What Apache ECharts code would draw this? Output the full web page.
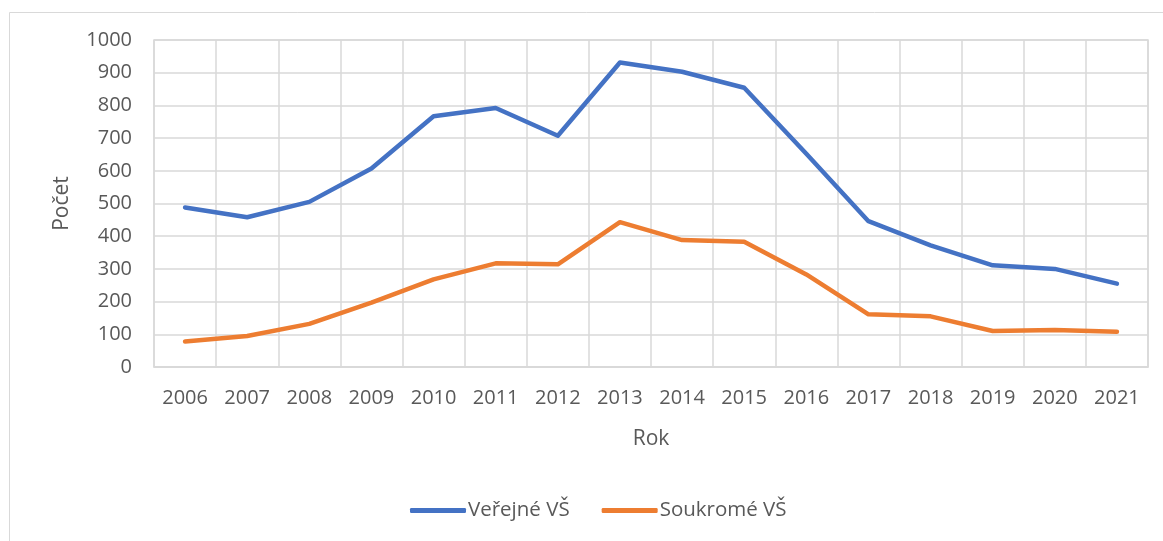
<!DOCTYPE html>
<html>
<head>
<meta charset="utf-8">
<script src="https://cdn.jsdelivr.net/npm/echarts@6/dist/echarts.min.js"></script>
<style>
html,body{margin:0;padding:0;background:#fff;}
#c{width:1163px;height:541px;}
</style>
</head>
<body>
<div id="c"></div>
<script>
const years = ['2006','2007','2008','2009','2010','2011','2012','2013','2014','2015','2016','2017','2018','2019','2020','2021'];
const verejne = [488, 458, 505, 607, 767, 792, 707, 931, 903, 854, 652, 446, 372, 311, 300, 255];
const soukrome = [78, 95, 132, 197, 268, 317, 314, 443, 388, 383, 283, 161, 155, 110, 113, 108];
const seriesNames = ['Veřejné VŠ', 'Soukromé VŠ'];
const yTicks = { min: 0, max: 1000, interval: 100 };

const FONT = '"Open Sans", "Noto Sans", sans-serif';
const TXT = '#595959';
const GRID = '#d9d9d9';

const chart = echarts.init(document.getElementById('c'), null, { renderer: 'canvas' });
chart.setOption({
  animation: false,
  backgroundColor: '#fff',
  textStyle: { fontFamily: FONT },
  graphic: [
    { type: 'line', shape: { x1: 9.5, y1: 12.5, x2: 1163, y2: 12.5 }, style: { stroke: '#d9d9d9', lineWidth: 1 } },
    { type: 'line', shape: { x1: 9.5, y1: 12.5, x2: 9.5, y2: 541 }, style: { stroke: '#d9d9d9', lineWidth: 1 } }
  ],
  grid: { left: 154, right: 15, top: 40, bottom: 174, show: true, borderColor: GRID, borderWidth: 1.5 },
  legend: {
    bottom: 15,
    left: 405,
    itemWidth: 56,
    itemHeight: 5,
    itemGap: 32,
    icon: 'roundRect',
    textStyle: { color: TXT, fontSize: 20.5, fontFamily: FONT, padding: [0, 0, 0, -3] },
    data: seriesNames
  },
  xAxis: {
    type: 'category',
    data: years,
    boundaryGap: true,
    name: 'Rok',
    nameLocation: 'middle',
    nameGap: 62,
    nameTextStyle: { color: TXT, fontSize: 21, fontFamily: FONT },
    axisLine: { show: true, lineStyle: { color: GRID, width: 1.5 } },
    axisTick: { show: false },
    axisLabel: { color: TXT, fontSize: 20, margin: 21, fontFamily: FONT },
    splitLine: { show: true, lineStyle: { color: GRID, width: 1.5 } }
  },
  yAxis: {
    type: 'value',
    min: yTicks.min,
    max: yTicks.max,
    interval: yTicks.interval,
    name: 'Počet',
    nameLocation: 'middle',
    nameGap: 81,
    nameTextStyle: { color: TXT, fontSize: 21, fontFamily: FONT },
    axisLine: { show: false },
    axisTick: { show: false },
    axisLabel: { color: TXT, fontSize: 20, margin: 22, fontFamily: FONT, formatter: function (v) { return String(v); } },
    splitLine: { show: true, lineStyle: { color: GRID, width: 1.5 } }
  },
  series: [
    {
      name: seriesNames[0], type: 'line', data: verejne,
      showSymbol: false, symbol: 'none',
      lineStyle: { color: '#4472C4', width: 4.5, cap: 'round', join: 'round' },
      itemStyle: { color: '#4472C4' }
    },
    {
      name: seriesNames[1], type: 'line', data: soukrome,
      showSymbol: false, symbol: 'none',
      lineStyle: { color: '#ED7D31', width: 4.5, cap: 'round', join: 'round' },
      itemStyle: { color: '#ED7D31' }
    }
  ]
});
</script>
</body>
</html>
